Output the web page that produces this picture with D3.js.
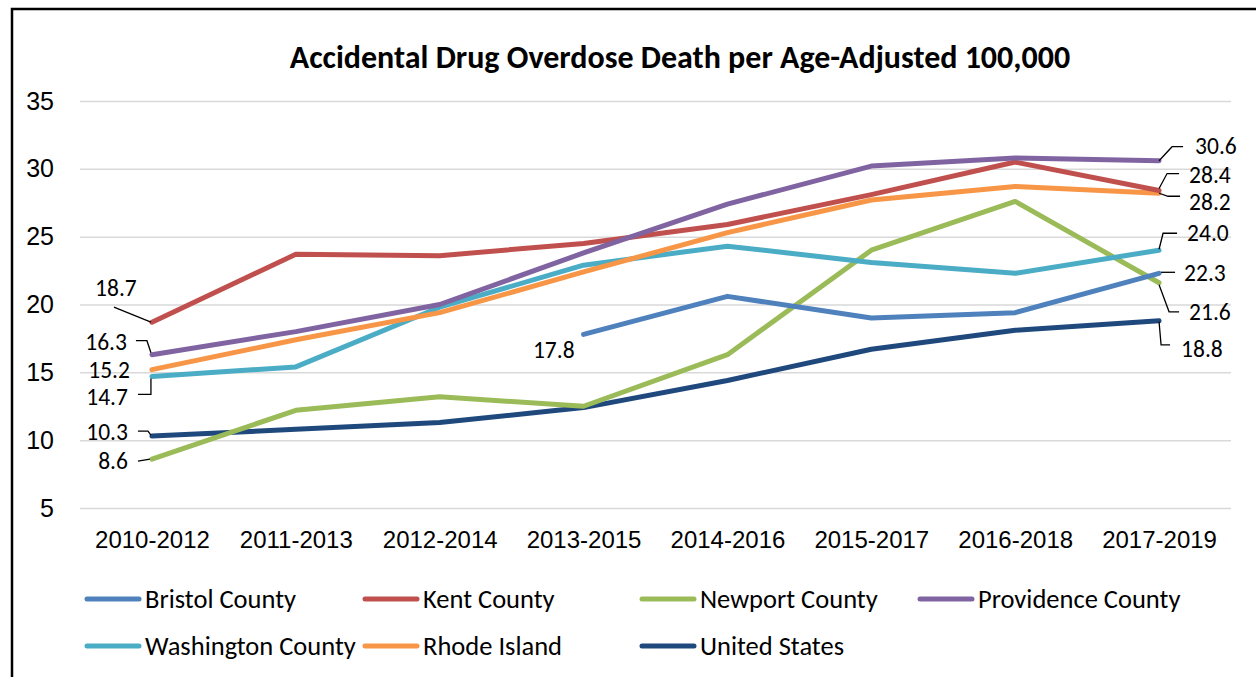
<!DOCTYPE html>
<html>
<head>
<meta charset="utf-8">
<script src="https://cdn.jsdelivr.net/npm/d3@7"></script>
<style>
  body { margin: 0; background: #fff; }
  svg { font-family: Carlito, Calibri, Lato, sans-serif; }
  .grid .tick line { stroke: #d9d9d9; stroke-width: 1.5; }
  .tick text { fill: #000; }
</style>
</head>
<body>
<svg id="chart" width="1256" height="677"></svg>
<script>
// periods on the x axis
const periods = ["2010-2012", "2011-2013", "2012-2014", "2013-2015", "2014-2016", "2015-2017", "2016-2018", "2017-2019"];
const yTicks = [5, 10, 15, 20, 25, 30, 35];

// rates per age-adjusted 100,000
const bristol    = [null, null, null, 17.8, 20.6, 19.0, 19.4, 22.3];
const kent       = [18.7, 23.7, 23.6, 24.5, 25.9, 28.1, 30.5, 28.4];
const newport    = [8.6, 12.2, 13.2, 12.5, 16.3, 24.0, 27.6, 21.6];
const providence = [16.3, 18.0, 20.0, 23.8, 27.4, 30.2, 30.8, 30.6];
const washington = [14.7, 15.4, 19.8, 22.9, 24.3, 23.1, 22.3, 24.0];
const rhodeIsland = [15.2, 17.4, 19.4, 22.4, 25.3, 27.7, 28.7, 28.2];
const unitedStates = [10.3, 10.8, 11.3, 12.4, 14.4, 16.7, 18.1, 18.8];

const seriesNames = ["Bristol County", "Kent County", "Newport County", "Providence County",
                     "Washington County", "Rhode Island", "United States"];
const seriesValues = [bristol, kent, newport, providence, washington, rhodeIsland, unitedStates];
const colors = ["#4f81bd", "#c0504d", "#9bbb59", "#8064a2", "#4bacc6", "#f79646", "#1f497d"];

// draw order (back to front)
const drawOrder = [6, 2, 0, 4, 5, 1, 3];

// data label placement: series index, point index, text offset, anchor, leader points (relative to point)
const labelSpots = [
  {s: 1, i: 0, dx: -36, dy: -34, anchor: "middle", leader: [[-38, -15], [-1, 0]]},
  {s: 3, i: 0, dx: -25, dy: -13, anchor: "end", leader: [[-16, -14], [-5, -14], [-1, -2]]},
  {s: 5, i: 0, dx: -22, dy: 0, anchor: "end", leader: null},
  {s: 4, i: 0, dx: -24, dy: 20, anchor: "end", leader: [[-14, 18], [-1, 18], [-1, 2]]},
  {s: 6, i: 0, dx: -24, dy: -4, anchor: "end", leader: [[-14, -5], [-4, -5], [-1, -1]]},
  {s: 2, i: 0, dx: -24, dy: 2, anchor: "end", leader: [[-14, 2], [-2, 0]]},
  {s: 0, i: 3, dx: -9, dy: 15, anchor: "end", leader: null},
  {s: 3, i: 7, dx: 36, dy: -15, anchor: "start", leader: [[0, 0], [13, -14], [24, -14]]},
  {s: 1, i: 7, dx: 30, dy: -16, anchor: "start", leader: [[0, -2], [8, -17], [20, -17]]},
  {s: 5, i: 7, dx: 30, dy: 9, anchor: "start", leader: [[0, 0], [9, 3], [21, 3]]},
  {s: 4, i: 7, dx: 28, dy: -17, anchor: "start", leader: [[0, -1], [4, -17], [18, -17]]},
  {s: 0, i: 7, dx: 25, dy: -1, anchor: "start", leader: [[2, -1], [16, -1]]},
  {s: 2, i: 7, dx: 30, dy: 29, anchor: "start", leader: [[0, 2], [10, 29], [20, 29]]},
  {s: 6, i: 7, dx: 22, dy: 28, anchor: "start", leader: [[0, 1], [2, 24], [11, 24]]}
];

const svg = d3.select("#chart");
const plot = {left: 80, right: 1231, top: 101, bottom: 508};

// outer frame (top and left edges visible)
svg.append("path")
  .attr("d", "M12,1000V9H1256")
  .attr("fill", "none")
  .attr("stroke", "#000")
  .attr("stroke-width", 2.5);

svg.append("text")
  .attr("x", 680)
  .attr("y", 68)
  .attr("text-anchor", "middle")
  .attr("font-weight", "bold")
  .attr("font-size", 32)
  .text("Accidental Drug Overdose Death per Age-Adjusted 100,000");

const x = d3.scalePoint().domain(periods).range([plot.left, plot.right]).padding(0.5);
const y = d3.scaleLinear().domain([5, 35]).range([plot.bottom, plot.top]);

svg.append("g")
  .attr("class", "grid")
  .attr("transform", `translate(${plot.left},0)`)
  .call(d3.axisLeft(y).tickValues(yTicks).tickSize(-(plot.right - plot.left)).tickPadding(26).tickFormat(d3.format("d")))
  .call(g => g.select(".domain").remove())
  .call(g => g.selectAll(".tick text").attr("font-size", 25).attr("font-family", "inherit"));

svg.append("g")
  .attr("transform", `translate(0,${plot.bottom})`)
  .call(d3.axisBottom(x).tickSize(0).tickPadding(23))
  .call(g => g.select(".domain").remove())
  .call(g => g.selectAll(".tick text").attr("font-size", 24).attr("font-family", "inherit"));

const line = d3.line()
  .defined(d => d[1] != null)
  .x(d => x(d[0]))
  .y(d => y(d[1]));

svg.append("g")
  .selectAll("path")
  .data(drawOrder)
  .join("path")
  .attr("fill", "none")
  .attr("stroke", s => colors[s])
  .attr("stroke-width", 5)
  .attr("stroke-linejoin", "round")
  .attr("stroke-linecap", "round")
  .attr("d", s => line(periods.map((p, i) => [p, seriesValues[s][i]])));

// data labels with leader lines
const labels = svg.append("g");
labelSpots.forEach(l => {
  const px = x(periods[l.i]);
  const py = y(seriesValues[l.s][l.i]);
  if (l.leader) {
    labels.append("path")
      .attr("fill", "none")
      .attr("stroke", "#000")
      .attr("stroke-width", 1.3)
      .attr("d", d3.line()(l.leader.map(p => [px + p[0], py + p[1]])));
  }
  labels.append("text")
    .attr("x", px + l.dx)
    .attr("y", py + l.dy)
    .attr("dy", "0.35em")
    .attr("text-anchor", l.anchor)
    .attr("font-size", 23.5)
    .text(seriesValues[l.s][l.i].toFixed(1));
});

// legend
const legendCols = [85, 363, 640, 918];
const legendRows = [599, 646];
const legend = svg.append("g")
  .selectAll("g")
  .data(seriesNames)
  .join("g")
  .attr("transform", (d, i) => `translate(${legendCols[i % 4]},${legendRows[Math.floor(i / 4)]})`);

legend.append("line")
  .attr("x1", 2).attr("x2", 54)
  .attr("stroke", (d, i) => colors[i])
  .attr("stroke-width", 5)
  .attr("stroke-linecap", "round");

legend.append("text")
  .attr("x", 60)
  .attr("dy", "0.35em")
  .attr("font-size", 26.5)
  .text(d => d);
</script>
</body>
</html>
